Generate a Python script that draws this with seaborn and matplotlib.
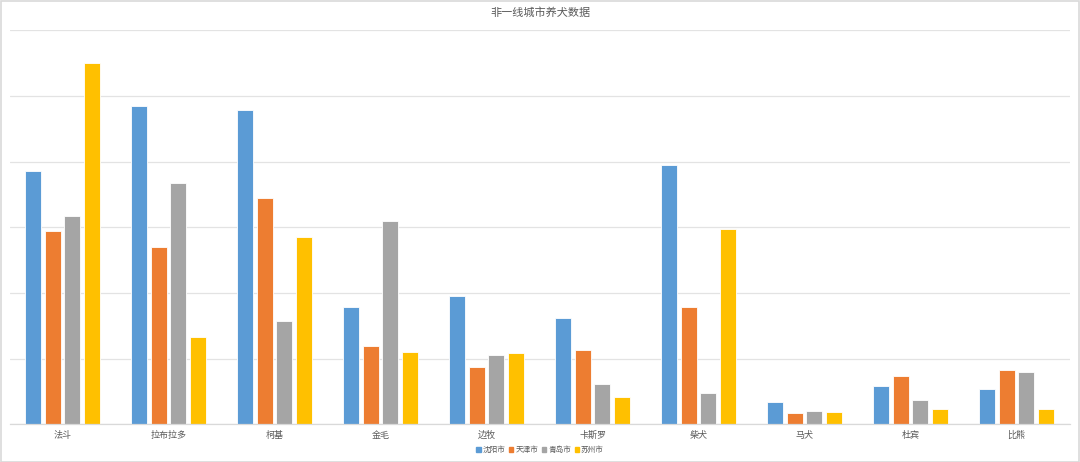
import matplotlib
matplotlib.use("Agg")
import matplotlib.pyplot as plt
import seaborn as sns
import pandas as pd
from matplotlib.patches import Rectangle

categories = ["法斗", "拉布拉多", "柯基", "金毛", "边牧", "卡斯罗", "柴犬", "马犬", "杜宾", "比熊"]
cities = ["沈阳市", "天津市", "青岛市", "苏州市"]
shenyang = [3.86, 4.85, 4.79, 1.78, 1.96, 1.62, 3.95, 0.34, 0.58, 0.54]
tianjin = [2.94, 2.70, 3.44, 1.19, 0.88, 1.13, 1.78, 0.17, 0.74, 0.83]
qingdao = [3.17, 3.67, 1.57, 3.10, 1.05, 0.61, 0.47, 0.21, 0.37, 0.79]
suzhou = [5.50, 1.33, 2.85, 1.10, 1.08, 0.42, 2.98, 0.19, 0.23, 0.24]
colors = ["#5B9BD5", "#ED7D31", "#A5A5A5", "#FFC000"]

rows = []
for city, vals in zip(cities, [shenyang, tianjin, qingdao, suzhou]):
    for c, v in zip(categories, vals):
        rows.append({"品种": c, "城市": city, "数量": v})
df = pd.DataFrame(rows)

sns.set_theme(style="white")
plt.rcParams["font.family"] = ["Noto Sans CJK SC", "DejaVu Sans"]

fig = plt.figure(figsize=(10.8, 4.62), dpi=100)
ax = fig.add_axes([9.5 / 1080, 1 - 424.3 / 462, 1060 / 1080, (424.3 - 30.3) / 462])

sns.barplot(data=df, x="品种", y="数量", hue="城市", hue_order=cities,
            order=categories, palette=colors, width=0.74, gap=0.2,
            edgecolor="white", linewidth=0.6, legend=False, ax=ax, saturation=1)

ax.set_ylim(0, 6)
ax.set_yticks(range(0, 7))
ax.set_yticklabels([])
ax.tick_params(axis="y", length=0)
ax.tick_params(axis="x", length=0, labelsize=6.5, colors="#595959", pad=4.5)
ax.yaxis.grid(True, color="#E3E3E3", linewidth=0.9)
ax.set_axisbelow(True)
for s in ["top", "right", "left"]:
    ax.spines[s].set_visible(False)
ax.spines["bottom"].set_color("#D9D9D9")
ax.spines["bottom"].set_linewidth(0.9)
ax.set_xlabel("")
ax.set_ylabel("")

fig.text(0.5, 1 - 13 / 462, "非一线城市养犬数据", ha="center", va="center",
         fontsize=8, color="#595959")

handles = [Rectangle((0, 0), 1, 1, color=c) for c in colors]
fig.legend(handles, cities, loc="center", bbox_to_anchor=(540 / 1080, 1 - 450 / 462),
           ncol=4, frameon=False, fontsize=5.5, handlelength=0.55, handleheight=0.6,
           handletextpad=0.25, columnspacing=0.5, labelcolor="#595959")

border = Rectangle((0.5 / 1080, 0.5 / 462), 1 - 1.5 / 1080, 1 - 1.5 / 462,
                   transform=fig.transFigure, fill=False, edgecolor="#D9D9D9", linewidth=1.2)
fig.patches.append(border)

fig.savefig("out.png", dpi=100)
